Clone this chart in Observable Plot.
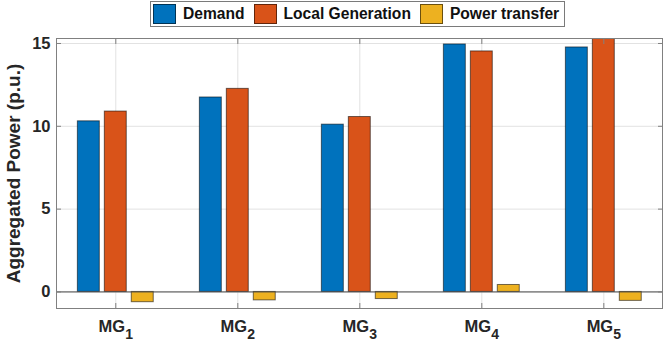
<!DOCTYPE html>
<html><head><meta charset="utf-8">
<script src="https://cdn.jsdelivr.net/npm/d3@7"></script>
<script src="https://cdn.jsdelivr.net/npm/@observablehq/plot@0.6"></script>
<style>
body{margin:0;background:#fff;font-family:"Liberation Sans",Arial,sans-serif;}
#wrap{position:relative;width:664px;height:343px;}
#legend{position:absolute;left:150px;top:1px;height:26px;border:1px solid #7a7a7a;display:flex;align-items:center;padding:0 5px 0 2px;background:#fff;box-sizing:border-box;font-weight:bold;font-size:15.6px;color:#111;}
.item{display:flex;align-items:center;margin-right:9px;}
.item:last-child{margin-right:0;}
.sw{width:23px;height:20px;box-sizing:border-box;border:1px solid rgba(0,0,0,0.55);margin-right:7px;}
#chart{position:absolute;left:0;top:30px;}
</style>
</head><body>
<div id="wrap"><div id="legend"></div><div id="chart"></div></div>
<script>
const categories = ["MG1", "MG2", "MG3", "MG4", "MG5"];
const series = ["Demand", "Local Generation", "Power transfer"];
const demand = [10.30, 11.74, 10.10, 14.94, 14.76];
const localGeneration = [10.89, 12.26, 10.56, 14.52, 15.30];
const powerTransfer = [-0.62, -0.51, -0.43, 0.42, -0.54];
const colors = ["#0072BD", "#D95319", "#EDB120"];
const yTicks = [0, 5, 10, 15];
const yLabel = "Aggregated Power (p.u.)";

const seriesValues = [demand, localGeneration, powerTransfer];
const offsetStep = 0.221, barHalf = 0.09;
const rows = [];
categories.forEach((c, i) => {
  series.forEach((s, j) => {
    rows.push({cat: c, idx: i + 1, series: s, pos: i + 1 + (j - 1) * offsetStep, value: seriesValues[j][i]});
  });
});

// legend
const lg = document.getElementById("legend");
series.forEach((s, j) => {
  const it = document.createElement("div"); it.className = "item";
  const sw = document.createElement("div"); sw.className = "sw"; sw.style.background = colors[j];
  const tx = document.createElement("span"); tx.textContent = s;
  it.appendChild(sw); it.appendChild(tx); lg.appendChild(it);
});

const axisColor = "#808080";
const textColor = "#262626";
const plot = Plot.plot({
  width: 664, height: 313,
  marginTop: 8, marginBottom: 35, marginLeft: 56, marginRight: 2,
  style: {fontFamily: "'Liberation Sans', Arial, sans-serif", fontWeight: "bold", fontSize: "16.5px", background: "#fff", overflow: "visible"},
  x: {type: "linear", domain: [0.514, 5.481]},
  y: {domain: [-1, 15.3]},
  color: {domain: series, range: colors},
  marks: [
    Plot.gridX({ticks: categories.map((c, i) => i + 1), stroke: "#e2e2e2", strokeOpacity: 1}),
    Plot.gridY({ticks: yTicks, stroke: "#e2e2e2", strokeOpacity: 1}),
    Plot.rectY(rows, {x1: d => d.pos - barHalf, x2: d => d.pos + barHalf, y1: 0, y2: "value", fill: "series", stroke: "#000", strokeOpacity: 0.55, strokeWidth: 1, clip: true}),
    Plot.ruleY([0], {stroke: "#4a4a4a", strokeWidth: 1}),
    Plot.frame({stroke: axisColor}),
    Plot.axisY({ticks: yTicks, anchor: "left", tickSize: -5, tickPadding: 11, stroke: axisColor, fill: textColor, label: null}),
    Plot.axisY({ticks: yTicks, anchor: "right", tickSize: -5, tickPadding: 0, stroke: axisColor, tickFormat: () => "", label: null}),
    Plot.axisX({ticks: categories.map((c, i) => i + 1), tickFormat: v => categories[v - 1], anchor: "bottom", tickSize: -5, tickPadding: 17, stroke: axisColor, fill: textColor, label: null}),
    Plot.axisX({ticks: categories.map((c, i) => i + 1), tickFormat: () => "", anchor: "top", tickSize: -5, tickPadding: 0, stroke: axisColor, label: null}),
    Plot.text([yLabel], {text: d => d, frameAnchor: "left", textAnchor: "middle", rotate: -90, dx: -43, fontSize: 19, fontWeight: "bold", fill: textColor})
  ]
});
document.getElementById("chart").appendChild(plot);

// subscripts for MG labels
d3.select(plot).selectAll("text").each(function() {
  const t = this.textContent;
  const m = /^([A-Za-z]+)(\d+)$/.exec(t);
  if (m) {
    const el = d3.select(this);
    el.text(null);
    el.append("tspan").text(m[1]);
    el.append("tspan").attr("dy", "0.45em").attr("font-size", "14px").text(m[2]);
  }
});
</script>
</body></html>
